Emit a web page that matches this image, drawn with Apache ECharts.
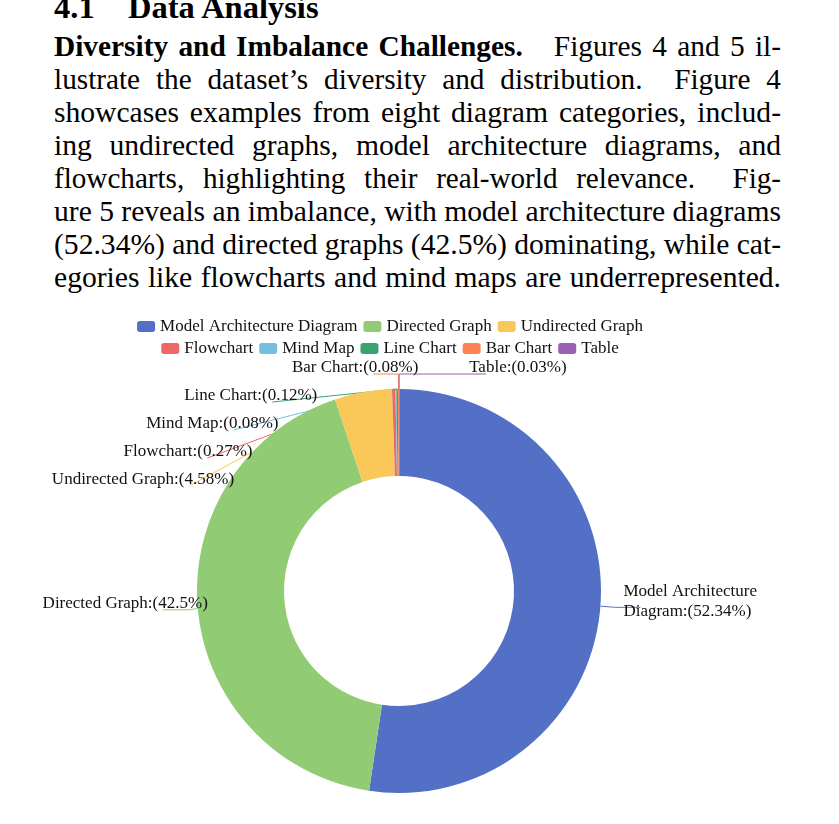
<!DOCTYPE html>
<html>
<head>
<meta charset="utf-8">
<script src="https://cdn.jsdelivr.net/npm/echarts@6/dist/echarts.min.js"></script>
<style>
  html, body { margin: 0; padding: 0; background: #fff; }
  body { width: 839px; height: 824px; position: relative; overflow: hidden; font-family: "Liberation Serif", "Times New Roman", serif; color: #000; }
  #heading { position: absolute; left: 54px; top: -11px; font-size: 32.5px; font-weight: bold; white-space: nowrap; line-height: 36px; }
  #heading .num { display: inline-block; width: 74px; }
  .line { position: absolute; left: 54px; font-size: 29.6px; white-space: nowrap; line-height: 33px; transform-origin: left top; }
  #chart { position: absolute; left: -150px; top: 290px; width: 1080px; height: 534px; }
</style>
</head>
<body>
<div id="heading"><span class="num">4.1</span>Data Analysis</div>
<div id="text"></div>
<div id="chart"></div>
<script>
// ---- paragraph lines (as typeset in the reference) ----
const paragraphLines = [
  "<b>Diversity and Imbalance Challenges.</b>&nbsp;&nbsp; Figures 4 and 5 il-",
  "lustrate the dataset’s diversity and distribution.&nbsp; Figure 4",
  "showcases examples from eight diagram categories, includ-",
  "ing undirected graphs, model architecture diagrams, and",
  "flowcharts, highlighting their real-world relevance.&nbsp; Fig-",
  "ure 5 reveals an imbalance, with model architecture diagrams",
  "(52.34%) and directed graphs (42.5%) dominating, while cat-",
  "egories like flowcharts and mind maps are underrepresented."
];

// ---- chart data ----
const categories = ["Model Architecture Diagram", "Directed Graph", "Undirected Graph", "Flowchart", "Mind Map", "Line Chart", "Bar Chart", "Table"];
const percentages = [52.34, 42.5, 4.58, 0.27, 0.08, 0.12, 0.08, 0.03];
const legendRow1 = categories.slice(0, 3);
const legendRow2 = categories.slice(3);

// ---- typeset paragraph (justified to the column width) ----
const textBox = document.getElementById('text');
const colWidth = 727;
paragraphLines.forEach((html, i) => {
  const d = document.createElement('div');
  d.className = 'line';
  d.style.top = (30 + i * 33) + 'px';
  d.innerHTML = '<span>' + html + '</span>';
  textBox.appendChild(d);
  const span = d.firstChild;
  const w = span.getBoundingClientRect().width;
  const spaces = (d.textContent.match(/ /g) || []).length;
  if (spaces) {
    let ws = (colWidth - w) / spaces;
    if (ws < -3) ws = -3;
    d.style.wordSpacing = ws + 'px';
  }
  const w2 = span.getBoundingClientRect().width;
  if (w2 > colWidth + 0.5) d.style.transform = 'scaleX(' + (colWidth / w2) + ')';
});

// ---- chart ----
const chart = echarts.init(document.getElementById('chart'), null, { renderer: 'canvas' });
const serif = '"Liberation Serif", "Times New Roman", serif';
const legendCommon = {
  left: 'center',
  itemWidth: 18,
  itemHeight: 11,
  itemGap: 6,
  icon: 'roundRect',
  textStyle: { fontFamily: serif, fontSize: 17, color: '#111' }
};
// leader-line style tweak (styling only, not data)
const labelLineStyleByName = { 'Table': { length2: 87 } };

chart.setOption({
  animation: false,
  color: ['#5470c6', '#91cc75', '#fac858', '#ee6666', '#73c0de', '#3ba272', '#fc8452', '#9a60b4'],
  legend: [
    Object.assign({ top: 23, data: legendRow1 }, legendCommon),
    Object.assign({ top: 45, data: legendRow2 }, legendCommon)
  ],
  series: [{
    type: 'pie',
    center: [549, 301],
    radius: [115, 202],
    startAngle: 89.9,
    avoidLabelOverlap: true,
    label: {
      show: true,
      fontFamily: serif,
      fontSize: 17,
      lineHeight: 20,
      padding: [3, 0],
      color: '#111',
      formatter: p => p.name.replace('Model Architecture ', 'Model Architecture\n') + ':(' + p.value + '%)'
    },
    labelLine: { show: true, length: 15, length2: 25, lineStyle: { width: 1 } },
    labelLayout: p => (p.align === 'right' ? { dx: 50, dy: -6 } : { dx: -22, dy: -6 }),
    data: categories.map((c, i) => {
      const item = { name: c, value: percentages[i] };
      if (labelLineStyleByName[c]) item.labelLine = labelLineStyleByName[c];
      return item;
    })
  }]
});
</script>
</body>
</html>
